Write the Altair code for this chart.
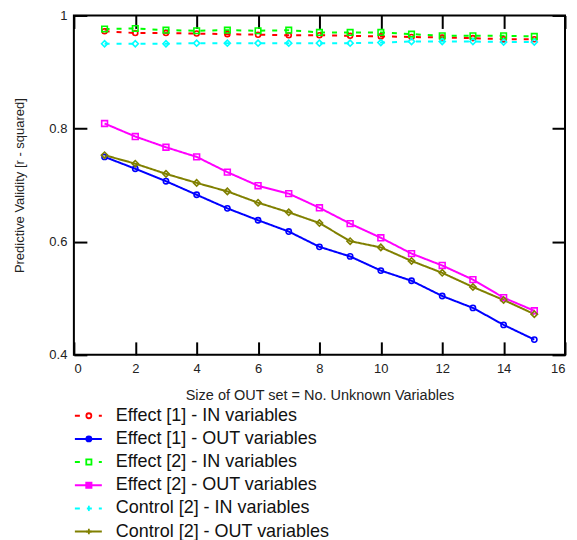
import altair as alt
import pandas as pd

x_vals = list(range(1, 16))

series_names = [
    "Effect [1] - IN variables",
    "Effect [1] - OUT variables",
    "Effect [2] - IN variables",
    "Effect [2] - OUT variables",
    "Control [2] - IN variables",
    "Control [2] - OUT variables",
]

effect1_in = [0.972, 0.969, 0.969, 0.968, 0.967, 0.966, 0.965, 0.965, 0.964, 0.963, 0.962, 0.961, 0.960, 0.958, 0.958]
effect1_out = [0.750, 0.729, 0.707, 0.683, 0.659, 0.638, 0.618, 0.591, 0.574, 0.549, 0.531, 0.504, 0.483, 0.453, 0.427]
effect2_in = [0.976, 0.977, 0.974, 0.973, 0.974, 0.973, 0.974, 0.970, 0.970, 0.970, 0.967, 0.964, 0.964, 0.964, 0.963]
effect2_out = [0.809, 0.786, 0.767, 0.750, 0.723, 0.699, 0.685, 0.660, 0.632, 0.607, 0.579, 0.558, 0.533, 0.501, 0.478]
control2_in = [0.950, 0.950, 0.950, 0.951, 0.951, 0.951, 0.951, 0.951, 0.951, 0.952, 0.954, 0.954, 0.954, 0.953, 0.953]
control2_out = [0.753, 0.738, 0.720, 0.704, 0.689, 0.669, 0.652, 0.633, 0.601, 0.590, 0.566, 0.545, 0.520, 0.497, 0.472]

all_series = [effect1_in, effect1_out, effect2_in, effect2_out, control2_in, control2_out]

x_tick_values = list(range(0, 17, 2))
y_tick_values = [0.4, 0.6, 0.8, 1.0]

colors = ["#FF0000", "#0000FF", "#00FF00", "#FF00FF", "#00FFFF", "#808000"]
shapes = ["circle", "circle", "square", "square", "diamond", "diamond"]
legend_shapes = ["circle", "circle", "square", "square", "M0,-1L0,1", "M-1,0L1,0M0,-1L0,1"]
legend_fills = ["#FFFFFF", "#0000FF", "#FFFFFF", "#FF00FF", "#FFFFFF", "#FFFFFF"]
dashes = [[5, 7], [1, 0], [5, 7], [1, 0], [5, 7], [1, 0]]
sizes = [25, 40, 50, 50, 90, 100]
legend_sizes = [25, 30, 36, 36, 80, 120]

rows = []
for name, vals in zip(series_names, all_series):
    for xv, v in zip(x_vals, vals):
        rows.append({"series": name, "x": xv, "v": v})
df = pd.DataFrame(rows)

W, H = 492, 340
TL = 13
FONT = "Liberation Sans"

x_scale = alt.Scale(domain=[0, 16], nice=False, zero=False)
y_scale = alt.Scale(domain=[0.4, 1.0], nice=False, zero=False)

common_tick = dict(ticks=True, tickSize=TL, tickWidth=2, tickColor="black", domain=False, grid=False, offset=-TL)

x_axis_bottom = alt.Axis(orient="bottom", values=x_tick_values, labelPadding=8, titlePadding=13,
                         labelFontSize=13, titleFontSize=14.5, labelFlush=True,
                         labelFont=FONT, titleFont=FONT, titleFontWeight="normal",
                         labelColor="#222", titleColor="#222", **common_tick)
y_axis_left = alt.Axis(orient="left", values=y_tick_values, format=".2~f", labelPadding=7, titlePadding=22,
                       labelFontSize=13, titleFontSize=13,
                       labelFont=FONT, titleFont=FONT, titleFontWeight="normal",
                       labelColor="#222", titleColor="#222", **common_tick)
x_axis_top = alt.Axis(orient="top", values=x_tick_values, labels=False, title=None, **common_tick)
y_axis_right = alt.Axis(orient="right", values=y_tick_values, labels=False, title=None, **common_tick)

X_TITLE = "Size of OUT set = No. Unknown Variables"
Y_TITLE = "Predictive Validity [r - squared]"

color_enc = alt.Color("series:N", scale=alt.Scale(domain=series_names, range=colors), legend=None)
dash_enc = alt.StrokeDash("series:N", scale=alt.Scale(domain=series_names, range=dashes), legend=None)

lines = alt.Chart(df).mark_line(strokeWidth=2).encode(
    x=alt.X("x:Q", scale=x_scale, axis=x_axis_bottom, title=X_TITLE),
    y=alt.Y("v:Q", scale=y_scale, axis=y_axis_left, title=Y_TITLE),
    color=color_enc,
    strokeDash=dash_enc,
    detail="series:N",
)
points = alt.Chart(df).mark_point(filled=False, strokeWidth=1.6, opacity=1).encode(
    x=alt.X("x:Q", scale=x_scale, axis=x_axis_top),
    y=alt.Y("v:Q", scale=y_scale, axis=y_axis_right),
    color=color_enc,
    shape=alt.Shape("series:N", scale=alt.Scale(domain=series_names, range=shapes), legend=None),
    size=alt.Size("series:N", scale=alt.Scale(domain=series_names, range=sizes), legend=None),
)

main = alt.layer(lines, points).resolve_axis(x="independent", y="independent").properties(
    width=W, height=H,
    view=alt.ViewBackground(stroke="black", strokeWidth=2),
)

leg_df = pd.DataFrame({"series": series_names})
leg_y = alt.Y("series:N", scale=alt.Scale(domain=series_names, type="point", padding=0), axis=None)
leg_base = alt.Chart(leg_df).encode(y=leg_y, color=color_enc)

leg_lines = leg_base.mark_rule(strokeWidth=2).encode(
    x=alt.value(1), x2=alt.value(28), strokeDash=dash_enc)
leg_pts = leg_base.mark_point(filled=False, strokeWidth=1.8, opacity=1).encode(
    x=alt.value(15),
    shape=alt.Shape("series:N", scale=alt.Scale(domain=series_names, range=legend_shapes), legend=None),
    size=alt.Size("series:N", scale=alt.Scale(domain=series_names, range=legend_sizes), legend=None),
    fill=alt.Fill("series:N", scale=alt.Scale(domain=series_names, range=legend_fills), legend=None),
)
leg_text = alt.Chart(leg_df).mark_text(align="left", baseline="middle", fontSize=18, font=FONT, color="#111").encode(
    y=leg_y, x=alt.value(42), text="series:N")

legend_panel = alt.layer(leg_lines, leg_pts, leg_text).properties(
    width=300, height=116,
    view=alt.ViewBackground(stroke=None),
)

chart = alt.vconcat(main, legend_panel, spacing=3).resolve_scale(
    shape="independent", size="independent", fill="independent"
).properties(
    padding={"left": 4, "top": 0, "right": 2, "bottom": 2},
).configure_view(stroke=None)

chart.save("out.html", embed_options={"renderer": "svg", "actions": False})
